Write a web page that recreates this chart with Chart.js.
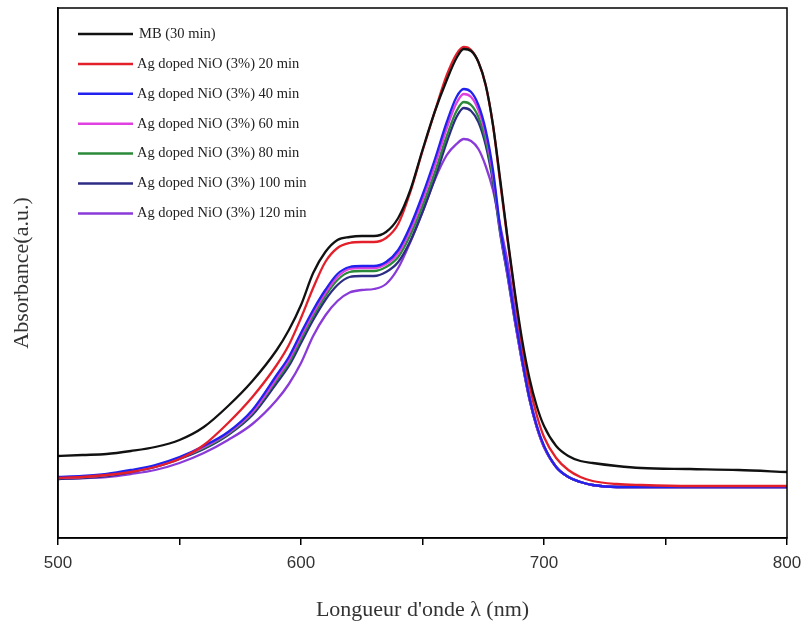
<!DOCTYPE html>
<html><head><meta charset="utf-8">
<script src="https://cdn.jsdelivr.net/npm/chart.js@4.4.1/dist/chart.umd.min.js"></script>
<style>html,body{margin:0;padding:0;background:#fff;}#wrap{width:810px;height:639px;}</style>
</head><body><div id="wrap"><canvas id="c" width="810" height="639"></canvas></div>
<script>
const wavelengths = [500,510,520,530,540,550,560,570,580,590,595,600,605,610,615,620,625,630,635,640,645,650,655,660,664,667,670,673,676,679,682,685,688,691,694,697,700,705,710,715,720,730,740,760,780,800];
const seriesLabels = ["MB (30 min)","Ag doped NiO (3%) 20 min","Ag doped NiO (3%) 40 min","Ag doped NiO (3%) 60 min","Ag doped NiO (3%) 80 min","Ag doped NiO (3%) 100 min","Ag doped NiO (3%) 120 min"];
const mb30 = [0.328,0.332,0.336,0.348,0.364,0.392,0.444,0.528,0.628,0.752,0.832,0.932,1.060,1.144,1.192,1.204,1.208,1.208,1.224,1.280,1.392,1.552,1.704,1.832,1.920,1.956,1.948,1.904,1.812,1.652,1.432,1.200,0.984,0.792,0.640,0.528,0.448,0.368,0.328,0.308,0.300,0.288,0.280,0.276,0.272,0.264];
const ag20 = [0.240,0.244,0.252,0.264,0.284,0.316,0.372,0.460,0.564,0.692,0.772,0.880,1.000,1.104,1.160,1.180,1.184,1.184,1.200,1.256,1.384,1.548,1.704,1.852,1.936,1.964,1.952,1.904,1.812,1.652,1.420,1.192,0.972,0.772,0.612,0.492,0.404,0.320,0.272,0.244,0.228,0.216,0.212,0.208,0.208,0.208];
const ag40 = [0.244,0.248,0.256,0.272,0.292,0.324,0.368,0.424,0.512,0.652,0.724,0.820,0.912,0.992,1.056,1.084,1.088,1.088,1.104,1.152,1.248,1.372,1.512,1.664,1.764,1.796,1.784,1.732,1.632,1.472,1.240,1.064,0.880,0.712,0.560,0.448,0.368,0.284,0.244,0.224,0.212,0.204,0.204,0.204,0.204,0.204];
const ag60 = [0.240,0.244,0.252,0.268,0.288,0.320,0.364,0.420,0.504,0.640,0.712,0.808,0.900,0.980,1.044,1.076,1.080,1.080,1.096,1.140,1.232,1.352,1.488,1.640,1.740,1.776,1.764,1.712,1.616,1.456,1.232,1.056,0.872,0.704,0.556,0.444,0.364,0.284,0.244,0.224,0.212,0.204,0.204,0.204,0.204,0.204];
const ag80 = [0.240,0.244,0.252,0.268,0.288,0.320,0.360,0.416,0.500,0.632,0.700,0.796,0.888,0.968,1.032,1.064,1.068,1.068,1.084,1.124,1.212,1.328,1.460,1.608,1.708,1.744,1.732,1.684,1.592,1.440,1.224,1.052,0.872,0.704,0.556,0.444,0.364,0.284,0.244,0.224,0.212,0.204,0.204,0.204,0.204,0.204];
const ag100 = [0.236,0.240,0.248,0.264,0.284,0.316,0.356,0.412,0.492,0.620,0.688,0.780,0.872,0.952,1.012,1.044,1.048,1.048,1.064,1.104,1.188,1.304,1.436,1.584,1.684,1.720,1.708,1.664,1.572,1.424,1.216,1.048,0.868,0.704,0.556,0.444,0.364,0.284,0.244,0.224,0.212,0.204,0.204,0.204,0.204,0.204];
const ag120 = [0.236,0.240,0.244,0.256,0.272,0.300,0.340,0.392,0.456,0.552,0.616,0.700,0.808,0.890,0.948,0.982,0.992,0.996,1.016,1.080,1.184,1.304,1.432,1.532,1.576,1.596,1.588,1.556,1.488,1.392,1.248,1.104,0.912,0.732,0.572,0.452,0.368,0.284,0.244,0.224,0.212,0.204,0.204,0.204,0.204,0.204];
const xMajorTicks = [500,600,700,800];
const xAllTicks = [500,550,600,650,700,750,800];
const seriesColors = ["#111111","#e3202a","#2222ee","#e040e0","#2a8a3a","#2c2c84","#8a3ad8"];

const allSeries = [mb30, ag20, ag40, ag60, ag80, ag100, ag120];
const datasets = allSeries.map((vals, i) => ({
  label: seriesLabels[i],
  data: wavelengths.map((w, j) => ({x: w, y: vals[j]})),
  borderColor: seriesColors[i],
  borderWidth: 2.3,
  pointRadius: 0,
  fill: false,
  cubicInterpolationMode: 'monotone'
}));

const framePlugin = {
  id: 'frame',
  afterDraw(chart) {
    const {ctx, chartArea: a} = chart;
    ctx.save();
    ctx.strokeStyle = '#000';
    ctx.lineWidth = 1.5;
    ctx.strokeRect(a.left, a.top, a.right - a.left, a.bottom - a.top);
    ctx.restore();
  }
};

const legendPlugin = {
  id: 'innerLegend',
  afterDraw(chart) {
    const {ctx, chartArea: a} = chart;
    ctx.save();
    ctx.font = '14.5px "Liberation Serif", "Times New Roman", serif';
    ctx.textBaseline = 'middle';
    chart.data.datasets.forEach((ds, i) => {
      const y = a.top + 26 + i * 29.9;
      ctx.strokeStyle = ds.borderColor;
      ctx.lineWidth = 2.5;
      ctx.beginPath();
      ctx.moveTo(a.left + 20, y);
      ctx.lineTo(a.left + 75, y);
      ctx.stroke();
      ctx.fillStyle = '#222';
      ctx.fillText(ds.label, a.left + (i === 0 ? 81 : 79), y);
    });
    ctx.restore();
  }
};

new Chart(document.getElementById('c'), {
  type: 'line',
  data: {datasets},
  options: {
    responsive: false,
    animation: false,
    devicePixelRatio: 1,
    layout: {padding: {top: 8, right: 23, left: 0, bottom: 0}},
    plugins: {legend: {display: false}, tooltip: {enabled: false}},
    scales: {
      x: {
        type: 'linear', min: 500, max: 800,
        afterBuildTicks: (s) => { s.ticks = xAllTicks.map(v => ({value: v})); },
        ticks: {
          callback: (v) => xMajorTicks.includes(v) ? String(v) : '',
          font: {family: '"Liberation Sans", Arial, sans-serif', size: 17},
          color: '#333', padding: 8, maxRotation: 0, autoSkip: false
        },
        grid: {display: true, drawOnChartArea: false, drawTicks: true, tickLength: 7, color: '#000', lineWidth: 1.5},
        border: {display: true, color: '#000', width: 1.5},
        title: {display: true, text: "Longueur d'onde \u03bb (nm)", color: '#333',
          font: {family: '"Liberation Serif", "Times New Roman", serif', size: 22},
          padding: {top: 0, bottom: 16}},
        afterFit: (s) => { s.height = 101; }
      },
      y: {
        min: 0, max: 2.12,
        ticks: {display: false},
        grid: {display: false},
        border: {display: true, color: '#000', width: 1.5},
        title: {display: true, text: 'Absorbance(a.u.)', color: '#333',
          font: {family: '"Liberation Serif", "Times New Roman", serif', size: 22},
          padding: {top: 9, bottom: 0}},
        afterFit: (s) => { s.width = 58; }
      }
    }
  },
  plugins: [framePlugin, legendPlugin]
});
</script>
</body></html>
